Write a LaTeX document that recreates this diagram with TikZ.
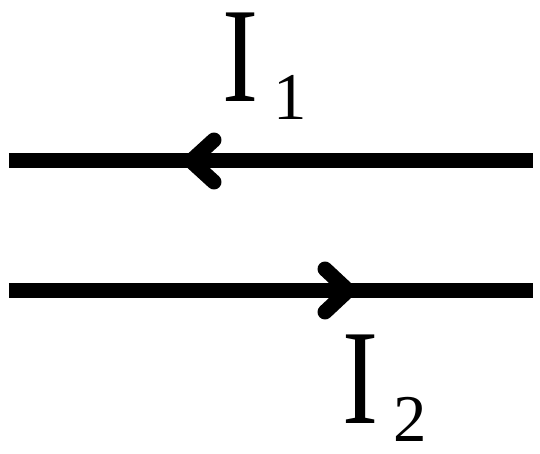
\documentclass[tikz,border=0pt]{standalone}
\usepackage{tikz}
\usepackage{graphicx}
\usepackage{fontspec}
\setmainfont{Liberation Serif}
\def\curlabel#1{\fontsize{77}{77}\selectfont\scalebox{0.8}[1]{I}\hspace{0.3cm}\raisebox{-0.36cm}{\fontsize{38}{38}\selectfont #1}}

\begin{document}
\begin{tikzpicture}
		%%%%% WIRES %%%%%
		\useasboundingbox (0, 0) rectangle (10.8, 9.06);
		
		\draw[line width=0.3cm] (0.18, 5.84) -- (10.66, 5.84);
		\draw[line width=0.3cm, line cap=round, line join=round] (4.28, 6.26) -- (3.82, 5.84) -- (4.28, 5.42);
		
		\draw[line width=0.3cm] (0.18, 3.25) -- (10.66, 3.25);
		\draw[line width=0.3cm, line cap=round, line join=round] (6.5, 3.68) -- (6.96, 3.25) -- (6.5, 2.82);
		
		\node[anchor=base west, inner sep=0] (i1) at (4.44, 7.02) {\curlabel{1}};
		\node[anchor=base west, inner sep=0] (i2) at (6.84, 0.6) {\curlabel{2}};
		%%%%% END %%%%%
	\end{tikzpicture}
\end{document}
